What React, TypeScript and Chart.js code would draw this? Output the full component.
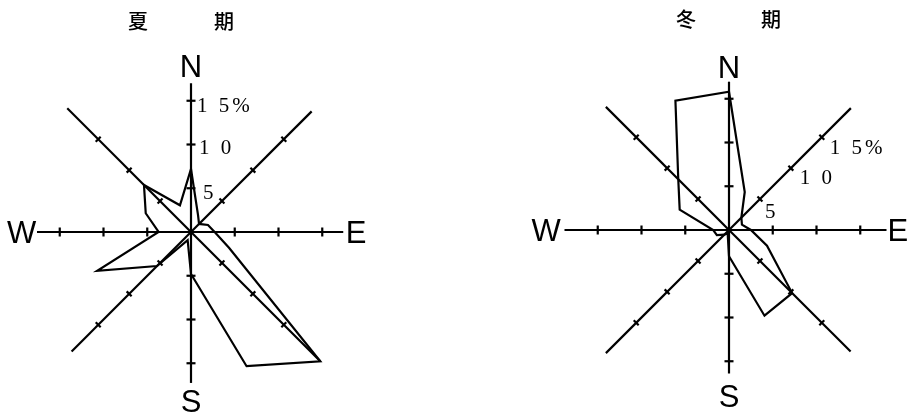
import React, { useEffect, useRef } from "react";
import { Chart, registerables } from "chart.js";

Chart.register(...registerables);

// 16-point compass, clockwise from north
const DIRECTIONS = ["N", "NNE", "NE", "ENE", "E", "ESE", "SE", "SSE", "S", "SSW", "SW", "WSW", "W", "WNW", "NW", "NNW"];

// wind direction frequency (%)
const SUMMER_FREQ = [7.2, 2.1, 1.3, 2.1, 2.7, 4.7, 20.9, 16.6, 4.8, 1.0, 5.5, 11.6, 3.7, 5.6, 7.6, 3.3];
const WINTER_FREQ = [15.8, 4.7, 2.0, 1.6, 2.5, 4.7, 10.2, 10.6, 3.0, 0.4, 0.75, 1.5, 1.8, 6.1, 8.2, 16.0];

const TICK_VALUES = [5, 10, 15];
const TICK_LABELS = ["5", "1 0", "1 5%"];
const COMPASS_LABELS = ["N", "E", "S", "W"];
const SUMMER_TITLE = ["夏", "期"];
const WINTER_TITLE = ["冬", "期"];

const R_MAX = 20;

type Panel = {
  key: string;
  left: number;
  width: number;
  padding: { left: number; top: number; right: number; bottom: number };
  values: number[];
  title: string[];
  titleX: number[];
  titleY: number;
  axisReach: number[]; // N, NE, E, SE, S, SW, W, NW (in % units)
  compassReach: number[]; // N, E, S, W
  tickAxis: number; // index of the direction carrying the scale labels
  tickLabelOffset: number[][];
};

const PANELS: Panel[] = [
  {
    key: "summer",
    left: 0,
    width: 456,
    padding: { left: 16, top: 57, right: 90, bottom: 10 },
    values: SUMMER_FREQ,
    title: SUMMER_TITLE,
    titleX: [138, 224],
    titleY: 21,
    axisReach: [17.0, 19.5, 17.4, 20.9, 17.25, 19.3, 17.6, 20.0],
    compassReach: [19.0, 18.86, 19.3, 19.37],
    tickAxis: 0,
    tickLabelOffset: [[12, 11], [8, 9], [6, 11]],
  },
  {
    key: "winter",
    left: 456,
    width: 457,
    padding: { left: 98, top: 55, right: 9, bottom: 12 },
    values: WINTER_FREQ,
    title: WINTER_TITLE,
    titleX: [230, 315],
    titleY: 19,
    axisReach: [16.95, 19.7, 18.0, 19.65, 16.4, 19.9, 18.8, 19.9],
    compassReach: [18.66, 19.3, 18.97, 20.9],
    tickAxis: 2,
    tickLabelOffset: [[5, 19], [9, 16], [8, 17]],
  },
];

function makeDecor(panel: Panel) {
  return {
    id: "roseDecor_" + panel.key,
    beforeDatasetsDraw(chart: any) {
      const scale = chart.scales.r;
      const ctx: CanvasRenderingContext2D = chart.ctx;
      const cx = scale.xCenter;
      const cy = scale.yCenter;
      ctx.save();
      ctx.strokeStyle = "#000";
      ctx.lineWidth = 2.2;
      ctx.lineCap = "butt";
      panel.axisReach.forEach((reach, k) => {
        const idx = k * 2;
        const end = scale.getPointPositionForValue(idx, reach);
        ctx.beginPath();
        ctx.moveTo(cx, cy);
        ctx.lineTo(end.x, end.y);
        ctx.stroke();
        const len = Math.hypot(end.x - cx, end.y - cy);
        const ux = (end.x - cx) / len;
        const uy = (end.y - cy) / len;
        const half = k % 2 === 0 ? 4.5 : 3.5;
        TICK_VALUES.forEach((v) => {
          const p = scale.getPointPositionForValue(idx, v);
          ctx.beginPath();
          ctx.moveTo(p.x - uy * half, p.y + ux * half);
          ctx.lineTo(p.x + uy * half, p.y - ux * half);
          ctx.stroke();
        });
      });
      ctx.restore();
    },
    afterDraw(chart: any) {
      const scale = chart.scales.r;
      const ctx: any = chart.ctx;
      ctx.save();
      ctx.fillStyle = "#000";

      // panel title
      ctx.font = '500 20px "Noto Sans CJK JP"';
      ctx.textAlign = "center";
      ctx.textBaseline = "middle";
      panel.title.forEach((ch, i) => ctx.fillText(ch, panel.titleX[i], panel.titleY));

      // compass letters
      const cSize = 31;
      ctx.font = `${cSize}px "Liberation Sans"`;
      ctx.textBaseline = "alphabetic";
      COMPASS_LABELS.forEach((lab, i) => {
        const p = scale.getPointPositionForValue(i * 4, panel.compassReach[i]);
        ctx.fillText(lab, p.x, p.y + cSize * 0.36);
      });

      // scale labels
      ctx.font = '21px "Liberation Serif"';
      ctx.textAlign = "left";
      ctx.letterSpacing = "3px";
      TICK_LABELS.forEach((lab, i) => {
        const p = scale.getPointPositionForValue(panel.tickAxis, TICK_VALUES[i]);
        const [dx, dy] = panel.tickLabelOffset[i];
        ctx.fillText(lab, p.x + dx, p.y + dy);
      });
      ctx.restore();
    },
  };
}

function RosePanel({ panel }: { panel: Panel }) {
  const ref = useRef<HTMLCanvasElement>(null);
  useEffect(() => {
    const chart = new Chart(ref.current as HTMLCanvasElement, {
      type: "radar",
      data: {
        labels: DIRECTIONS,
        datasets: [
          {
            data: panel.values,
            borderColor: "#000",
            borderWidth: 2.2,
            backgroundColor: "rgba(0,0,0,0)",
            fill: false,
            pointRadius: 0,
            pointHoverRadius: 0,
            tension: 0,
            borderJoinStyle: "miter",
            clip: false,
          } as any,
        ],
      },
      options: {
        responsive: false,
        animation: false,
        devicePixelRatio: 1,
        layout: { padding: panel.padding },
        plugins: { legend: { display: false }, tooltip: { enabled: false } },
        scales: {
          r: {
            min: 0,
            max: R_MAX,
            grid: { display: false },
            angleLines: { display: false },
            ticks: { display: false },
            pointLabels: { display: false },
          },
        },
      },
      plugins: [makeDecor(panel)],
    });
    return () => chart.destroy();
  }, [panel]);
  return (
    <canvas
      ref={ref}
      width={panel.width}
      height={417}
      style={{ position: "absolute", left: panel.left, top: 0, width: panel.width, height: 417 }}
    />
  );
}

export default function App() {
  return (
    <div style={{ position: "fixed", left: 0, top: 0, width: 913, height: 417, background: "#fff", overflow: "hidden" }}>
      {PANELS.map((p) => (
        <RosePanel key={p.key} panel={p} />
      ))}
    </div>
  );
}
